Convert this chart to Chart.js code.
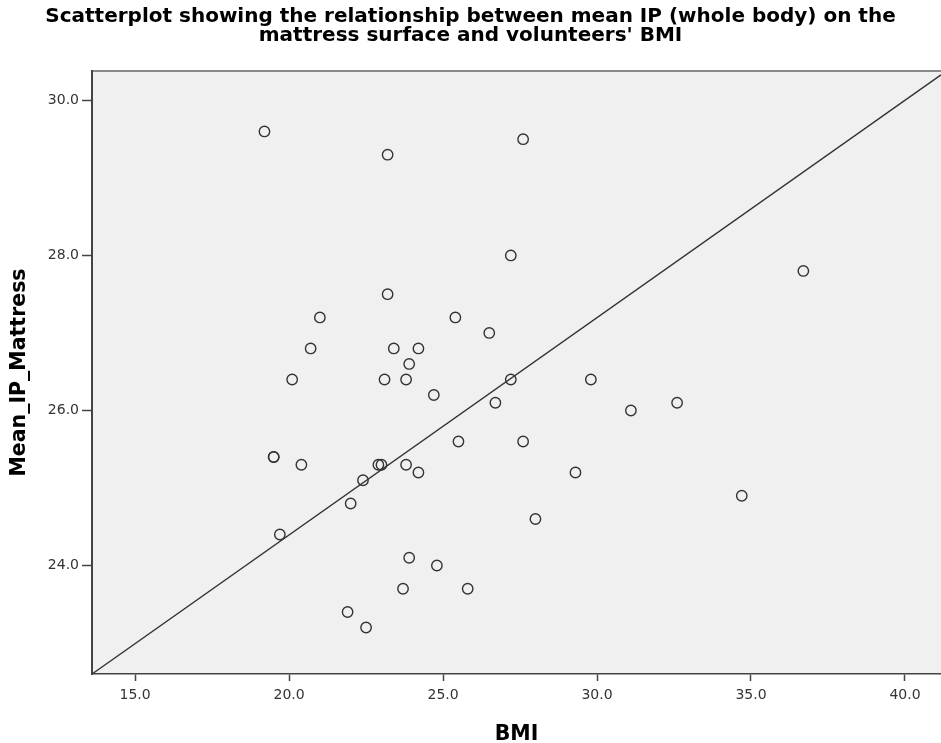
<!DOCTYPE html>
<html>
<head>
<meta charset="utf-8">
<script src="https://cdn.jsdelivr.net/npm/chart.js@4/dist/chart.umd.min.js"></script>
<style>
  html, body { margin: 0; padding: 0; background: #fff; }
  canvas { display: block; }
</style>
</head>
<body>
<canvas id="scatter" width="941" height="743"></canvas>
<script>
// valores
const bmi = [19.2, 23.2, 27.6, 27.2, 23.2, 21.0, 25.4, 26.5, 20.7, 23.4, 24.2, 23.9, 20.1, 23.1, 23.8,
  27.2, 29.8, 24.7, 26.7, 19.5, 19.5, 25.5, 27.6, 20.4, 22.9, 23.0, 23.8, 24.2, 29.3, 22.4, 22.0,
  28.0, 19.7, 23.9, 24.8, 23.7, 25.8, 21.9, 22.5, 36.7, 31.1, 32.6, 34.7];
const meanIP = [29.6, 29.3, 29.5, 28.0, 27.5, 27.2, 27.2, 27.0, 26.8, 26.8, 26.8, 26.6, 26.4, 26.4, 26.4,
  26.4, 26.4, 26.2, 26.1, 25.4, 25.4, 25.6, 25.6, 25.3, 25.3, 25.3, 25.3, 25.2, 25.2, 25.1, 24.8,
  24.6, 24.4, 24.1, 24.0, 23.7, 23.7, 23.4, 23.2, 27.8, 26.0, 26.1, 24.9];

// linha de referencia
const refLineX = [13.6, 41.17];
const refLineY = [22.6, 30.33];

const xTicks = [15, 20, 25, 30, 35, 40];
const yTicks = [24, 26, 28, 30];

const titleLines = [
  "Scatterplot showing the relationship between mean IP (whole body) on the",
  "mattress surface and volunteers' BMI",
];

function toPoints(xs, ys) {
  return xs.map((x, i) => ({ x: x, y: ys[i] }));
}

// fundo cinza da area do grafico + borda de cima
const plotBackground = {
  id: "plotBackground",
  beforeDraw(chart) {
    const { ctx, chartArea } = chart;
    ctx.save();
    ctx.fillStyle = "#f0f0f0";
    ctx.fillRect(chartArea.left, chartArea.top, chartArea.right - chartArea.left, chartArea.bottom - chartArea.top);
    ctx.strokeStyle = "#8a8a8a";
    ctx.lineWidth = 2;
    ctx.beginPath();
    ctx.moveTo(chartArea.left, chartArea.top);
    ctx.lineTo(chartArea.right, chartArea.top);
    ctx.stroke();
    ctx.restore();
  },
};

const config = {
  type: "scatter",
  data: {
    datasets: [
      {
        data: toPoints(bmi, meanIP),
        pointStyle: "circle",
        pointRadius: 5.2,
        pointHoverRadius: 5.2,
        pointBorderWidth: 1.4,
        pointBorderColor: "#333",
        pointBackgroundColor: "rgba(0,0,0,0)",
      },
      {
        data: toPoints(refLineX, refLineY),
        showLine: true,
        borderColor: "#333",
        borderWidth: 1.4,
        pointRadius: 0,
        fill: false,
      },
    ],
  },
  options: {
    responsive: false,
    animation: false,
    layout: { padding: 0, autoPadding: false },
    plugins: {
      legend: { display: false },
      tooltip: { enabled: false },
      title: {
        display: true,
        text: titleLines,
        color: "#000",
        font: { family: "'DejaVu Sans', sans-serif", size: 20, weight: "bold", lineHeight: 0.96 },
        padding: { top: 7, bottom: 25.6 },
      },
    },
    scales: {
      x: {
        type: "linear",
        min: 13.6,
        max: 41.17,
        afterFit: (s) => { s.height = 69; },
        afterBuildTicks: (s) => { s.ticks = xTicks.map((v) => ({ value: v })); },
        grid: { drawOnChartArea: false, drawTicks: true, tickLength: 7, tickColor: "#444", tickWidth: 1.5 },
        border: { display: true, color: "#444", width: 1.5 },
        ticks: {
          color: "#333",
          padding: 6,
          font: { family: "'DejaVu Sans', sans-serif", size: 14 },
          callback: (v) => Number(v).toFixed(1),
        },
        title: {
          display: true,
          text: "BMI",
          color: "#000",
          font: { family: "'DejaVu Sans', sans-serif", size: 20.5, weight: "bold", lineHeight: 1 },
          padding: { top: 0, bottom: -1.5 },
        },
      },
      y: {
        type: "linear",
        min: 22.6,
        max: 30.38,
        afterFit: (s) => { s.width = 92; },
        afterBuildTicks: (s) => { s.ticks = yTicks.map((v) => ({ value: v })); },
        grid: { drawOnChartArea: false, drawTicks: true, tickLength: 10, tickColor: "#444", tickWidth: 1.5 },
        border: { display: true, color: "#444", width: 2 },
        ticks: {
          color: "#333",
          padding: 3,
          font: { family: "'DejaVu Sans', sans-serif", size: 14 },
          callback: (v) => Number(v).toFixed(1),
        },
        title: {
          display: true,
          text: "Mean_IP_Mattress",
          color: "#000",
          font: { family: "'DejaVu Sans', sans-serif", size: 20.5, weight: "bold", lineHeight: 1 },
          padding: { top: 9, bottom: 0 },
        },
      },
    },
  },
  plugins: [plotBackground],
};

const ctx = document.getElementById("scatter").getContext("2d");
new Chart(ctx, config);
</script>
</body>
</html>
